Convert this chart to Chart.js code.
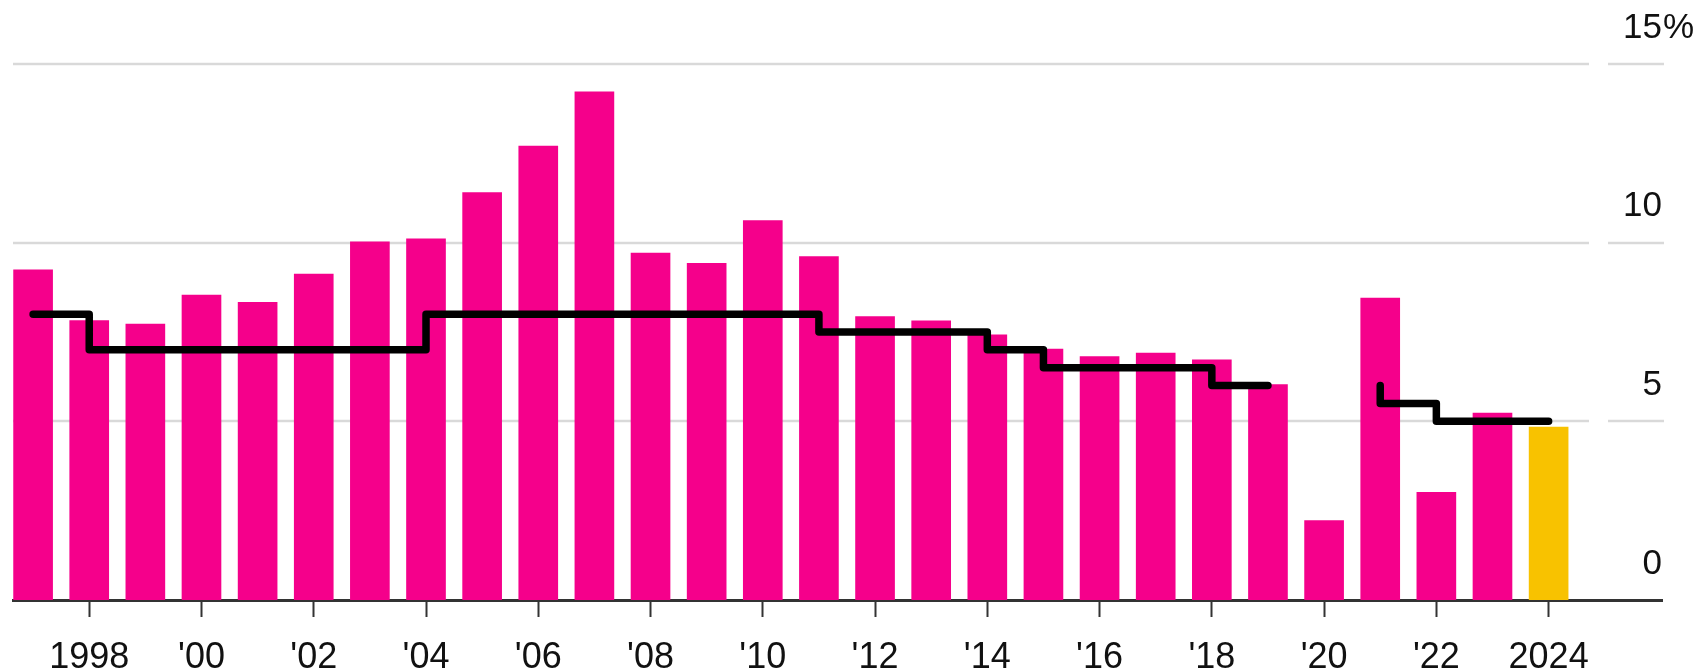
<!DOCTYPE html>
<html>
<head>
<meta charset="utf-8">
<title>Growth vs target</title>
<script src="https://cdn.jsdelivr.net/npm/chart.js@4.4.1/dist/chart.umd.min.js"></script>
<style>
    html, body { margin: 0; padding: 0; background: #fff; }
    #wrap { position: relative; width: 1706px; height: 672px; }
</style>
</head>
<body>
<div id="wrap"><canvas id="chart"></canvas></div>
<script>
// === data ===
const years = [1997, 1998, 1999, 2000, 2001, 2002, 2003, 2004, 2005, 2006, 2007, 2008, 2009, 2010,
    2011, 2012, 2013, 2014, 2015, 2016, 2017, 2018, 2019, 2020, 2021, 2022, 2023, 2024];
const growth = [9.24, 7.82, 7.72, 8.53, 8.33, 9.12, 10.02, 10.11, 11.40, 12.70, 14.22, 9.71, 9.42, 10.62,
    9.61, 7.93, 7.81, 7.42, 7.02, 6.81, 6.91, 6.72, 6.03, 2.22, 8.45, 3.01, 5.23, 4.84];

// target line (2021 appears twice: the line drops straight down there)
const targetYears = [1997, 1998, 1999, 2000, 2001, 2002, 2003, 2004, 2005, 2006, 2007, 2008, 2009, 2010,
    2011, 2012, 2013, 2014, 2015, 2016, 2017, 2018, 2019, 2020, 2021, 2021, 2022, 2023, 2024];
const targets = [8, 7, 7, 7, 7, 7, 7, 8, 8, 8, 8, 8, 8, 8,
    7.5, 7.5, 7.5, 7, 6.5, 6.5, 6.5, 6, 6, null, 6, 5.5, 5, 5, 5];

const tickYears = [1998, 2000, 2002, 2004, 2006, 2008, 2010, 2012, 2014, 2016, 2018, 2020, 2022, 2024];
const tickLabels = ["1998", "'00", "'02", "'04", "'06", "'08", "'10", "'12", "'14", "'16", "'18", "'20", "'22", "2024"];
const yTicks = [0, 5, 10, 15];

// === style ===
const MAGENTA = "#f5008b";
const YELLOW = "#f8c200";
const FONT = "'Liberation Sans', Arial, Helvetica, sans-serif";
const TEXT = "#111";
const LABEL_LIFT = -36;

// gridlines: long line, a gap, then a short piece under each label
const gridPlugin = {
    id: "splitGrid",
    beforeDatasetsDraw(chart) {
        const { ctx, chartArea, scales } = chart;
        ctx.save();
        ctx.strokeStyle = "#d9d9d9";
        ctx.lineWidth = 2.5;
        yTicks.forEach(v => {
            if (v === 0) return;
            const y = Math.round(scales.y.getPixelForValue(v));
            ctx.beginPath();
            ctx.moveTo(chartArea.left, y);
            ctx.lineTo(chartArea.right - 73, y);
            ctx.moveTo(chartArea.right - 54, y);
            ctx.lineTo(chartArea.right + 2, y);
            ctx.stroke();
        });
        ctx.restore();
    },
    afterDraw(chart) {
        // percent sign hangs to the right of the top label
        const ys = chart.scales.y;
        const top = yTicks[yTicks.length - 1];
        const ctx = chart.ctx;
        ctx.save();
        ctx.font = "35px " + FONT;
        ctx.fillStyle = TEXT;
        ctx.textAlign = "left";
        ctx.textBaseline = "middle";
        ctx.fillText("%", ys.left + 1, ys.getPixelForValue(top) + LABEL_LIFT);
        ctx.restore();
    }
};

const ctx = document.getElementById("chart").getContext("2d");
new Chart(ctx, {
    type: "bar",
    data: {
        datasets: [
            {
                type: "line",
                data: targetYears.map((x, i) => ({ x, y: targets[i] })),
                borderColor: "#000",
                borderWidth: 7.5,
                borderCapStyle: "round",
                borderJoinStyle: "round",
                stepped: true,
                spanGaps: false,
                pointRadius: 0,
                fill: false,
                order: 0,
            },
            {
                type: "bar",
                data: years.map((x, i) => ({ x, y: growth[i] })),
                backgroundColor: years.map((y, i) => i === years.length - 1 ? YELLOW : MAGENTA),
                borderWidth: 0,
                barThickness: 39,
                order: 1,
            }
        ]
    },
    options: {
        responsive: true,
        maintainAspectRatio: false,
        animation: false,
        layout: { padding: { left: 13, right: 44, top: 64, bottom: 0 } },
        plugins: {
            legend: { display: false },
            tooltip: { enabled: false },
        },
        scales: {
            x: {
                type: "linear",
                min: 1996.642,
                max: 2026.02,
                offset: false,
                afterBuildTicks: scale => {
                    scale.ticks = tickYears.map(v => ({ value: v }));
                },
                afterFit: scale => {
                    scale.height = 72;
                },
                grid: {
                    offset: false,
                    drawOnChartArea: false,
                    drawTicks: true,
                    tickLength: 17,
                    tickColor: "#333",
                    tickWidth: 2,
                },
                border: { display: true, color: "#333", width: 3 },
                ticks: {
                    autoSkip: false,
                    maxRotation: 0,
                    padding: 20,
                    color: TEXT,
                    font: { family: FONT, size: 36, lineHeight: 1.15 },
                    callback: (value, index) => tickLabels[index],
                },
            },
            y: {
                position: "right",
                min: 0,
                max: 15,
                afterBuildTicks: scale => {
                    scale.ticks = yTicks.map(v => ({ value: v }));
                },
                grid: { display: false, drawTicks: false },
                border: { display: false },
                ticks: {
                    mirror: true,
                    padding: 0,
                    labelOffset: LABEL_LIFT,
                    color: TEXT,
                    font: { family: FONT, size: 35 },
                    callback: v => String(v),
                },
            }
        }
    },
    plugins: [gridPlugin]
});
</script>
</body>
</html>
